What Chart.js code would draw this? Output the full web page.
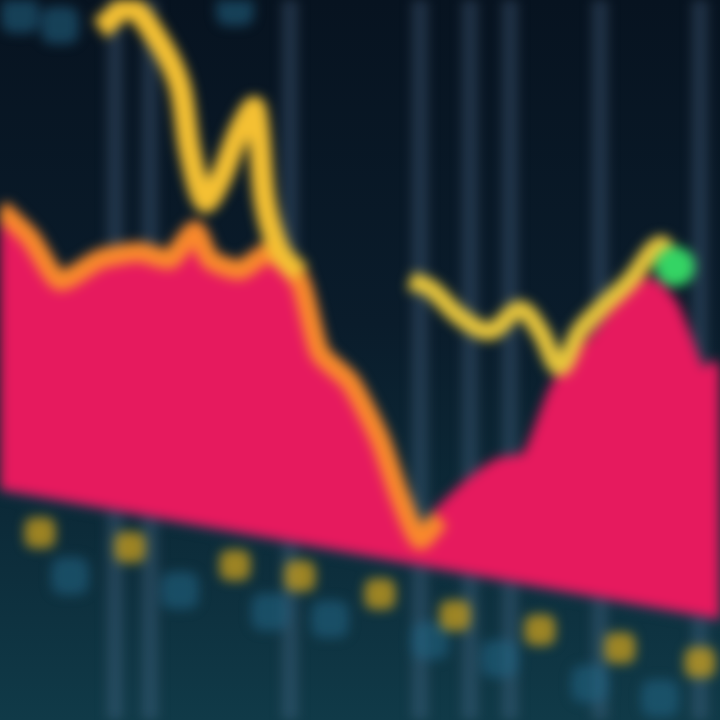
<!DOCTYPE html>
<html>
<head>
<meta charset="utf-8">
<script src="https://cdn.jsdelivr.net/npm/chart.js@4.4.0/dist/chart.umd.min.js"></script>
<style>
  html, body { margin: 0; padding: 0; }
  body {
    width: 720px; height: 720px; overflow: hidden;
    background: linear-gradient(180deg, #071320 0%, #0a1c2b 45%, #0c2a38 72%, #103a48 100%);
  }
  #wrap { width: 720px; height: 720px; position: relative; }
  canvas { filter: blur(6px) saturate(1.1); }
</style>
</head>
<body>
<div id="wrap"><canvas id="chart" width="720" height="720"></canvas></div>
<script>
// time axis (0..720) and value axis (0..100)
const areaX = [0, 30, 60, 100, 140, 170, 195, 210, 240, 270, 300, 320, 350, 380, 400, 420, 440, 470, 500, 530, 560, 590, 620, 650, 670, 700, 720];
const areaTop = [71, 67, 61, 64, 65, 64, 68, 64, 62.5, 65, 61, 51, 47, 39, 31, 25, 28, 32, 35, 36, 46, 51, 56, 60, 57, 47, 49];
const baseX = [0, 720];
const baseY = [32, 14];

const leftLineX = [100, 130, 160, 180, 190, 205, 220, 240, 255, 265, 280, 300];
const leftLineY = [96, 99, 94, 88, 79, 72, 75, 82, 85, 72, 65, 62];

const rightLineX = [410, 430, 460, 490, 520, 540, 560, 580, 600, 630, 660, 675];
const rightLineY = [61, 60, 56, 54, 57, 54, 49, 54, 57, 61, 66, 63];

const gridX = [115, 150, 290, 420, 470, 510, 600, 700];

const yellowMarkX = [40, 130, 235, 300, 380, 455, 540, 620, 700];
const yellowMarkY = [26, 24, 21.5, 20, 17.5, 14.5, 12.5, 10, 8];
const blueMarkX = [70, 180, 270, 330, 430, 500, 590, 660, 20, 60, 235];
const blueMarkY = [20, 18, 15, 14, 11, 8.5, 5, 3, 98, 96.5, 99];

const toPts = (xs, ys) => xs.map((x, i) => ({ x: x, y: ys[i] }));

const ctx = document.getElementById('chart');
new Chart(ctx, {
  type: 'line',
  data: {
    datasets: [
      {
        label: 'Yellow left',
        data: toPts(leftLineX, leftLineY),
        borderColor: '#efc040',
        borderWidth: 22,
        pointRadius: 0,
        tension: 0.3,
        fill: false,
        clip: false,
        order: 1
      },
      {
        label: 'Yellow right',
        data: toPts(rightLineX, rightLineY),
        borderColor: '#e2c448',
        borderWidth: 18,
        pointRadius: rightLineX.map((x, i) => i === rightLineX.length - 1 ? 11 : 0),
        pointBackgroundColor: '#3fd06a',
        pointBorderColor: '#3fd06a',
        tension: 0.35,
        fill: false,
        order: 1
      },
      {
        label: 'Area',
        data: toPts(areaX, areaTop),
        borderColor: '#f07a2e',
        borderWidth: 20,
        backgroundColor: '#d81e5c',
        pointRadius: 0,
        tension: 0.2,
        fill: '+1',
        clip: false,
        segment: {
          borderColor: c => c.p0.parsed.x < 430 ? '#f08a36' : '#d81e5c'
        },
        order: 2
      },
      {
        label: 'Base',
        data: toPts(baseX, baseY),
        borderColor: 'rgba(30,60,90,0.6)',
        borderWidth: 8,
        pointRadius: 0,
        fill: false,
        order: 3
      },
      {
        label: 'Yellow marks',
        type: 'scatter',
        data: toPts(yellowMarkX, yellowMarkY),
        pointStyle: 'rectRounded',
        pointRadius: 18,
        backgroundColor: 'rgba(200,160,40,0.75)',
        borderWidth: 0,
        order: 4
      },
      {
        label: 'Blue marks',
        type: 'scatter',
        data: toPts(blueMarkX, blueMarkY),
        pointStyle: 'rectRounded',
        pointRadius: 22,
        backgroundColor: 'rgba(40,100,130,0.55)',
        borderWidth: 0,
        order: 4
      }
    ]
  },
  options: {
    responsive: false,
    animation: false,
    maintainAspectRatio: false,
    layout: { padding: 0, autoPadding: false },
    plugins: { legend: { display: false }, tooltip: { enabled: false } },
    scales: {
      x: {
        type: 'linear', min: 0, max: 720, display: true,
        afterBuildTicks: axis => { axis.ticks = gridX.map(v => ({ value: v })); },
        ticks: { display: false },
        border: { display: false },
        grid: { color: 'rgba(100,130,160,0.28)', lineWidth: 16, drawTicks: false }
      },
      y: {
        min: 0, max: 100, display: false
      }
    }
  }
});
</script>
</body>
</html>
